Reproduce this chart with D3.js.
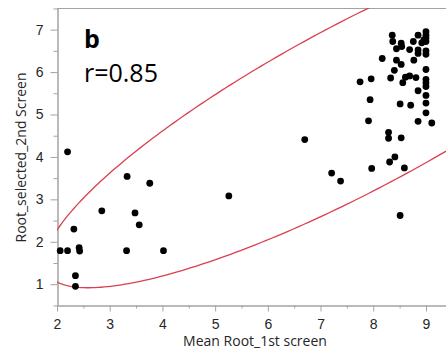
<!DOCTYPE html>
<html>
<head>
<meta charset="utf-8">
<script src="https://cdn.jsdelivr.net/npm/d3@7"></script>
<style>
  body { margin: 0; background: #fff; }
  svg { display: block; font-family: "Open Sans", "Noto Sans", sans-serif; }
</style>
</head>
<body>
<div id="chart"></div>
<script>
// values
const xValues = [
  2.06, 2.20, 2.20, 2.32, 2.42, 2.43, 2.35, 2.35, 2.85, 3.32,
  3.33, 3.48, 3.56, 3.76, 4.02, 5.26, 6.70, 7.21, 7.38, 7.75,
  7.96, 7.94, 7.91, 7.97, 8.17, 8.29, 8.29, 8.31, 8.41, 8.51,
  8.59, 8.53, 8.51, 8.36, 8.37, 8.33, 8.40, 8.44, 8.44, 8.53,
  8.54, 8.53, 8.56, 8.61, 8.69, 8.69, 8.71, 8.76, 8.77, 8.81,
  8.85, 8.85, 8.85, 8.85, 8.85, 8.92, 8.96, 9.00, 9.00, 9.00,
  9.00, 9.00, 9.00, 9.00, 9.00, 9.00, 9.00, 9.00, 9.00, 9.00,
  9.11
];
const yValues = [
  1.79, 1.79, 4.12, 2.30, 1.86, 1.78, 1.20, 0.95, 2.73, 1.79,
  3.54, 2.68, 2.40, 3.38, 1.79, 3.08, 4.41, 3.62, 3.43, 5.77,
  5.84, 5.35, 4.85, 3.73, 6.32, 4.58, 4.44, 3.88, 4.00, 2.62,
  3.74, 4.45, 5.25, 6.87, 6.72, 5.86, 6.04, 6.28, 6.55, 6.68,
  6.60, 6.18, 5.75, 5.88, 5.91, 6.53, 5.22, 6.72, 6.28, 5.87,
  6.87, 6.52, 6.44, 5.56, 4.84, 6.69, 6.76, 6.95, 6.87, 6.80,
  6.72, 6.50, 6.42, 6.06, 5.83, 5.75, 5.66, 5.45, 5.27, 5.04,
  4.80
];
const xTicks = [2, 3, 4, 5, 6, 7, 8, 9];
const xMinorTicks = [2.5, 3.5, 4.5, 5.5, 6.5, 7.5, 8.5];
const yTicks = [1, 2, 3, 4, 5, 6, 7];
const yMinorTicks = [0.5, 1.5, 2.5, 3.5, 4.5, 5.5, 6.5, 7.5];

// 95% density ellipse (bivariate normal)
const ellipseMean = [7.71, 5.20];
const ellipseSd = [2.43, 1.75];
const ellipseRho = 0.86;
const ellipseLevel = 0.95;

const panelLabel = 'b';
const corrLabel = 'r=0.85';
const xTitle = 'Mean Root_1st screen';
const yTitle = 'Root_selected_2nd Screen';

const width = 446;
const height = 353;
const margin = { left: 57, top: 8, right: 0, bottom: 48 };

const svg = d3.select('#chart')
  .append('svg')
  .attr('width', width)
  .attr('height', height);

const x = d3.scaleLinear()
  .domain([2, 9.38])
  .range([margin.left, width - margin.right]);

const y = d3.scaleLinear()
  .domain([0.51, 7.51])
  .range([height - margin.bottom, margin.top]);

const axisColor = '#a3a3a3';
const textColor = '#262626';

function styleAxis(g) {
  g.selectAll('.domain').attr('stroke', axisColor);
  g.selectAll('.tick line').attr('stroke', axisColor);
  g.selectAll('.tick text')
    .attr('fill', textColor)
    .attr('font-size', 14);
}

// frame: top border
svg.append('line')
  .attr('x1', x.range()[0]).attr('x2', x.range()[1])
  .attr('y1', y.range()[1] + 0.5).attr('y2', y.range()[1] + 0.5)
  .attr('stroke', axisColor);

// x axis
svg.append('g')
  .attr('transform', `translate(0,${y.range()[0] + 0.5})`)
  .call(d3.axisBottom(x).tickValues(xMinorTicks).tickSize(3)
    .tickSizeOuter(0).tickFormat(''))
  .call(styleAxis);

svg.append('g')
  .attr('transform', `translate(0,${y.range()[0] + 0.5})`)
  .call(d3.axisBottom(x).tickValues(xTicks).tickSize(6)
    .tickSizeOuter(0).tickPadding(8).tickFormat(d3.format('d')))
  .call(styleAxis);

// y axis
svg.append('g')
  .attr('transform', `translate(${x.range()[0] + 0.5},0)`)
  .call(d3.axisLeft(y).tickValues(yMinorTicks).tickSize(4)
    .tickSizeOuter(0).tickFormat(''))
  .call(styleAxis);

svg.append('g')
  .attr('transform', `translate(${x.range()[0] + 0.5},0)`)
  .call(d3.axisLeft(y).tickValues(yTicks).tickSize(7)
    .tickSizeOuter(0).tickPadding(7).tickFormat(d3.format('d')))
  .call(styleAxis);

// axis titles
svg.append('text')
  .attr('text-anchor', 'middle')
  .attr('x', 255)
  .attr('y', 346)
  .attr('font-size', 14)
  .attr('fill', textColor)
  .text(xTitle);

svg.append('text')
  .attr('text-anchor', 'middle')
  .attr('transform', `translate(26,${(y.range()[0] + y.range()[1]) / 2 + 1}) rotate(-90)`)
  .attr('font-size', 14)
  .attr('fill', textColor)
  .text(yTitle);

// clip to plot area
svg.append('clipPath')
  .attr('id', 'plot-clip')
  .append('rect')
  .attr('x', x.range()[0])
  .attr('y', y.range()[1])
  .attr('width', x.range()[1] - x.range()[0])
  .attr('height', y.range()[0] - y.range()[1]);

// ellipse
const c = Math.sqrt(-2 * Math.log(1 - ellipseLevel));
const s = Math.sqrt(1 - ellipseRho * ellipseRho);
const ellipsePts = d3.range(0, 361, 1).map((deg) => {
  const t = deg * Math.PI / 180;
  return [
    ellipseMean[0] + c * ellipseSd[0] * Math.cos(t),
    ellipseMean[1] + c * ellipseSd[1] * (ellipseRho * Math.cos(t) + s * Math.sin(t))
  ];
});

svg.append('path')
  .attr('clip-path', 'url(#plot-clip)')
  .attr('fill', 'none')
  .attr('stroke', '#db3f4f')
  .attr('stroke-width', 1.3)
  .attr('d', d3.line().x((d) => x(d[0])).y((d) => y(d[1]))(ellipsePts));

// points
svg.append('g')
  .selectAll('circle')
  .data(d3.range(xValues.length))
  .enter()
    .append('circle')
    .attr('cx', (i) => x(xValues[i]))
    .attr('cy', (i) => y(yValues[i]))
    .attr('r', 3.4)
    .attr('fill', '#000');

// labels
svg.append('text')
  .attr('x', 84)
  .attr('y', 48)
  .attr('font-size', 25)
  .attr('font-weight', 'bold')
  .attr('fill', '#000')
  .text(panelLabel);

svg.append('text')
  .attr('x', 84)
  .attr('y', 82)
  .attr('font-size', 25)
  .attr('fill', '#000')
  .text(corrLabel);
</script>
</body>
</html>
